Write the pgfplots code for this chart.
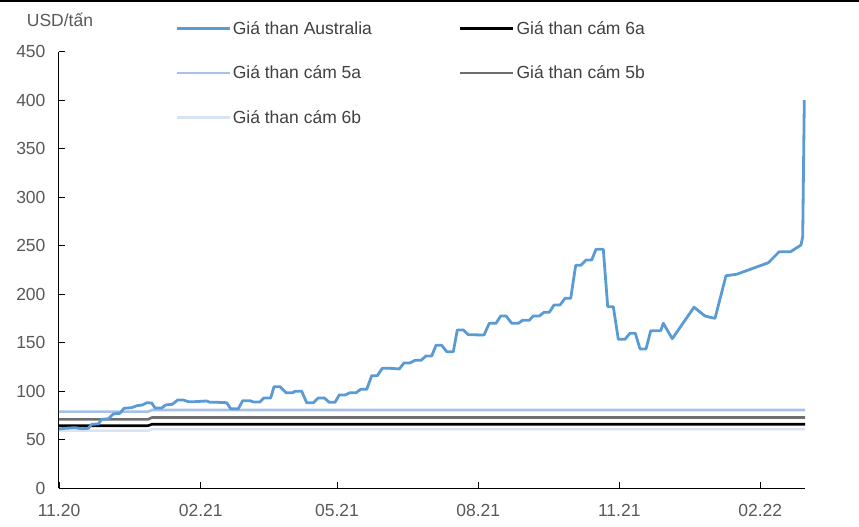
\documentclass[border=0pt]{standalone}
\usepackage{fontspec}
\setmainfont{Liberation Sans}
\usepackage{pgfplots}
\pgfplotsset{compat=1.18}
\definecolor{ausblue}{HTML}{5B9BD5}
\definecolor{c5a}{HTML}{A9C0E6}
\definecolor{c5b}{HTML}{6E6E6E}
\definecolor{c6a}{HTML}{000000}
\definecolor{c6b}{HTML}{DAE3F3}
\definecolor{txt}{HTML}{595959}
\definecolor{legtxt}{HTML}{404040}
\newcommand{\fs}{\fontsize{17.5}{20}\selectfont}
\begin{document}
\begin{tikzpicture}
\useasboundingbox (-59pt,-38.7pt) rectangle (800pt,488.3pt);
\draw[black, line width=2pt] (-59pt,487.3pt) -- (800pt,487.3pt);
\node[font=\fs, text=txt] at (1pt,468.3pt) {USD/tấn};
\begin{axis}[
  scale only axis, width=746pt, height=436.6pt,
  xmin=0, xmax=746, ymin=0, ymax=450,
  axis x line*=bottom, axis y line*=left,
  axis line style={black, line width=1pt},
  tick align=inside, major tick length=6pt,
  tick style={black, line width=0.8pt},
  xtick={0,141.7,278,419.3,560.3,701.3},
  xticklabels={11.20,02.21,05.21,08.21,11.21,02.22},
  ytick={0,50,...,450},
  /pgf/number format/assume math mode=true,
  tick label style={font=\fs, text=txt},
  yticklabel style={xshift=-10pt},
  xticklabel style={yshift=-12pt},
  clip=false,
  legend columns=2,
  legend cell align=left,
  legend image code/.code={\draw[#1] (0pt,0pt) -- (53pt,0pt);},
  legend style={draw=none, fill=none, font=\fs, text=legtxt,
    at={(0.1555,1.0744)}, anchor=north west, inner sep=0pt,
    row sep=26pt,
    /tikz/every even column/.append style={column sep=85pt}},
]
\addlegendimage{ausblue, line width=2.6pt}
\addlegendentry{Giá than Australia}
\addlegendimage{c6a, line width=2.6pt}
\addlegendentry{Giá than cám 6a}
\addlegendimage{c5a, line width=2.6pt}
\addlegendentry{Giá than cám 5a}
\addlegendimage{c5b, line width=2.6pt}
\addlegendentry{Giá than cám 5b}
\addlegendimage{c6b, line width=2.6pt}
\addlegendentry{Giá than cám 6b}

\addplot[c6b, line width=2.6pt, forget plot] coordinates {(0,59.5)(89,59.5)(93,61)(746,61)};
\addplot[c6a, line width=2.6pt, forget plot] coordinates {(0,64.5)(89,64.5)(93,66)(746,66)};
\addplot[c5b, line width=2.6pt, forget plot] coordinates {(0,71)(89,71)(93,73)(746,73)};
\addplot[c5a, line width=2.6pt, forget plot] coordinates {(0,79)(89,79)(93,80.7)(746,80.7)};
\addplot[ausblue, line width=2.8pt, line join=round, forget plot] coordinates {
(0,61.1)(6,61.8)(16,62.5)(22.7,61.4)(29.3,61.8)(32.7,66.0)(39.3,66.3)(42.7,71.1)(49.3,71.7)
(54.3,76.6)(61,77.3)(65,82.5)(72.7,83.1)(77.7,85.1)(83.3,85.9)(87.7,88.2)(92.7,87.9)(96,82.8)
(102.7,82.8)(106.7,85.9)(113.3,86.6)(118.7,91.0)(124.3,91.0)(129.3,89.3)(136,89.3)(147.7,90.0)
(151,88.6)(159.3,88.6)(167.7,88.2)(171.7,82.0)(179.3,82.0)(183.7,90.3)(191,90.3)(194.3,89.0)
(201,89.0)(205,93.1)(211.7,93.1)(215,104.7)(221,104.7)(227,98.5)(233.7,98.5)(236,100.0)
(242.7,100.0)(247.7,88.2)(254.3,88.2)(259.3,93.1)(265.3,93.1)(270.3,88.6)(276,88.6)(280.3,96.2)
(286,96.2)(291,98.5)(297,98.5)(301.7,102.0)(307.7,102.0)(312.7,116.1)(318.3,116.1)(323.3,123.7)
(331,123.7)(340.3,123.0)(345,129.2)(351,129.2)(356,131.9)(362,131.9)(367,136.4)(372.7,136.4)
(377,147.4)(382.7,147.4)(387.7,140.8)(394.3,140.8)(398.3,163.2)(404.3,163.2)(409.3,158.3)
(425,158.0)(430.3,170.1)(437,170.1)(441.7,177.6)(447,177.6)(452.7,170.1)(459.3,170.1)
(463.7,173.2)(470.3,173.2)(474.3,177.6)(480.3,177.6)(485,181.4)(490.3,181.4)(495,188.9)
(501,188.9)(506,195.8)(511.7,195.8)(516.7,229.8)(521.7,229.8)(527,235.3)(532.7,235.3)
(537,246.3)(544.3,246.3)(548.7,187.2)(554.3,187.2)(559.3,153.6)(566,153.6)(571,159.8)
(576.3,159.8)(581,143.6)(587,143.6)(591.7,162.4)(601.7,162.4)(604.3,170.1)(613.3,154.2)
(635,186.6)(646,177.6)(651,176.3)(656,175.2)(667,219.1)(677.7,220.6)(709.3,232.5)
(720.3,243.9)(731.7,243.9)(742,250.8)(743.7,259.3)(745.3,400.2)};
\end{axis}
\end{tikzpicture}
\end{document}
